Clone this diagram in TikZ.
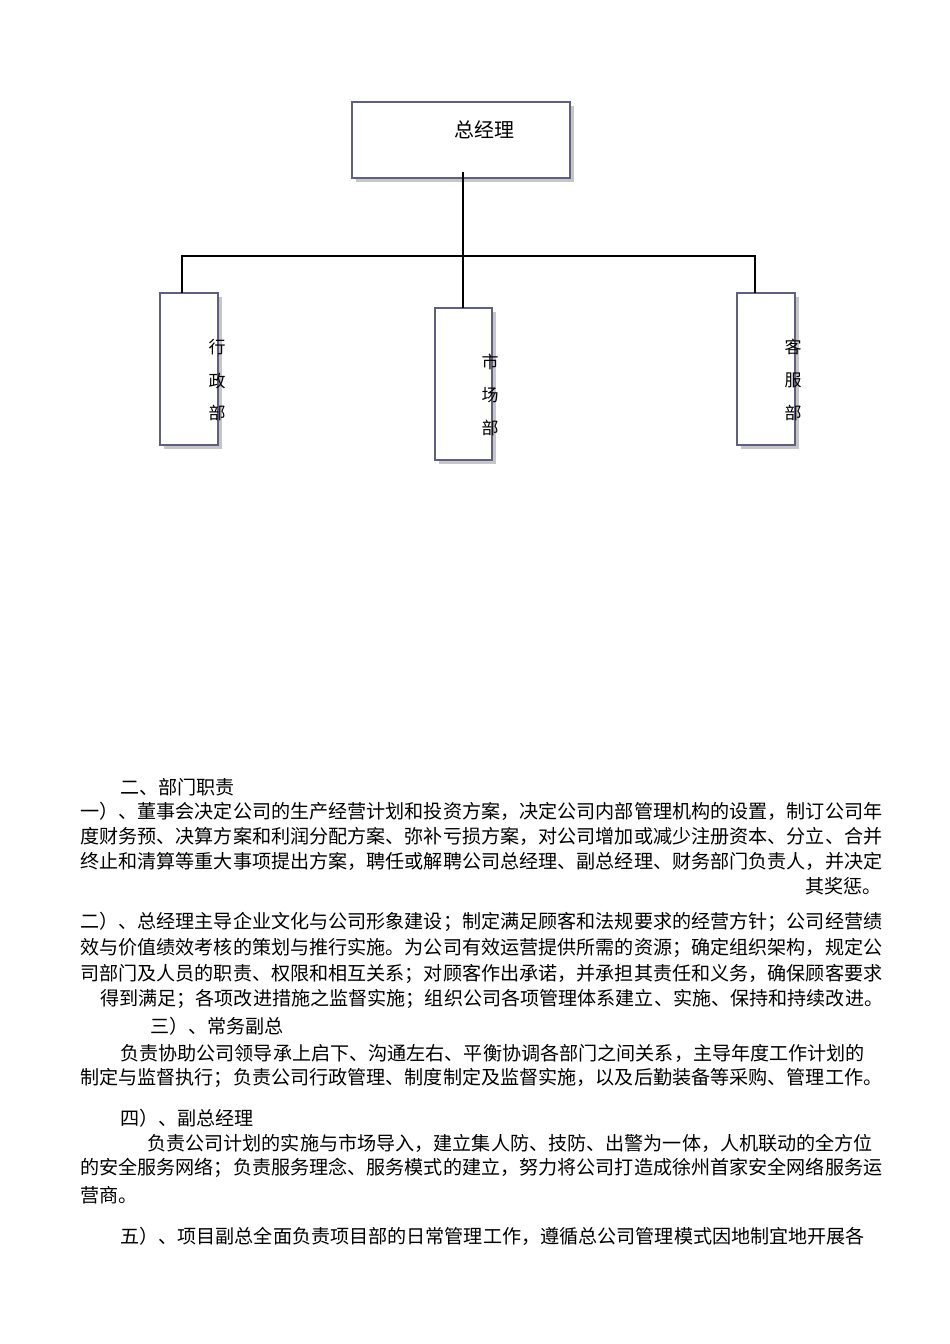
\documentclass[tikz,border=0pt]{standalone}
\usepackage{fontspec}
\newfontfamily\cjk{Noto Sans CJK SC}
\begin{document}
\begin{tikzpicture}[x=1pt,y=-1pt,
  box/.style={draw=boxc,line width=1.6pt,fill=white},
  shad/.style={fill=gray!45,draw=none},
  conn/.style={line width=1.8pt,black},
  lbl/.style={font=\cjk\fontsize{17}{17}\selectfont,inner sep=0pt},
  para/.style={anchor=west,inner sep=0pt,font=\cjk\fontsize{19.1}{19.1}\selectfont}]
\definecolor{boxc}{RGB}{95,95,130}
\useasboundingbox[fill=white] (0,0) rectangle (950,1344);
% shadows
\fill[shad] (356,106) rectangle (574,182);
\fill[shad] (164,297) rectangle (222,449);
\fill[shad] (439,312) rectangle (496,464);
\fill[shad] (741,297) rectangle (799,449);
% boxes
\draw[box] (352,102) rectangle (570,178);
\node[font=\cjk\fontsize{20}{20}\selectfont,inner sep=0pt] (gmt) at (484,130) {总经理};
\draw[box] (160,293) rectangle (218,445);
\draw[box] (435,308) rectangle (492,460);
\draw[box] (737,293) rectangle (795,445);
\coordinate (top) at (463,172);
\coordinate (hm) at (463,256);
\coordinate (hl) at (182,256);
\coordinate (hr) at (755,256);
\coordinate (bl) at (182,293);
\coordinate (bm) at (463,308);
\coordinate (br) at (755,293);
\draw[conn] (top) -- (hm) -- (bm);
\draw[conn] (bl) -- (hl) -- (hr) -- (br);
\node[lbl] (a1) at (217,347) {行};
\node[lbl] (a2) at (217,381) {政};
\node[lbl] (a3) at (217,413) {部};
\node[lbl] (b1) at (490,362) {市};
\node[lbl] (b2) at (490,395) {场};
\node[lbl] (b3) at (490,428) {部};
\node[lbl] (c1) at (793,347) {客};
\node[lbl] (c2) at (793,380) {服};
\node[lbl] (c3) at (793,413) {部};
% text
\node[para] (t1) at (120,787) {二、部门职责};
\node[para] (t2) at (80,811) {一）、董事会决定公司的生产经营计划和投资方案，决定公司内部管理机构的设置，制订公司年};
\node[para] (t3) at (80,836) {度财务预、决算方案和利润分配方案、弥补亏损方案，对公司增加或减少注册资本、分立、合并};
\node[para] (t4) at (80,861) {终止和清算等重大事项提出方案，聘任或解聘公司总经理、副总经理、财务部门负责人，并决定};
\node[para,anchor=east] (t5) at (882,886) {其奖惩。};
\node[para] (t6) at (80,922) {二）、总经理主导企业文化与公司形象建设；制定满足顾客和法规要求的经营方针；公司经营绩};
\node[para] (t7) at (80,948) {效与价值绩效考核的策划与推行实施。为公司有效运营提供所需的资源；确定组织架构，规定公};
\node[para] (t8) at (80,974) {司部门及人员的职责、权限和相互关系；对顾客作出承诺，并承担其责任和义务，确保顾客要求};
\node[para] (t9) at (100,999) {得到满足；各项改进措施之监督实施；组织公司各项管理体系建立、实施、保持和持续改进。};
\node[para] (t10) at (150,1026) {三）、常务副总};
\node[para] (t11) at (120,1053) {负责协助公司领导承上启下、沟通左右、平衡协调各部门之间关系，主导年度工作计划的};
\node[para] (t12) at (80,1078) {制定与监督执行；负责公司行政管理、制度制定及监督实施，以及后勤装备等采购、管理工作。};
\node[para] (t13) at (120,1118) {四）、副总经理};
\node[para] (t14) at (147,1143) {负责公司计划的实施与市场导入，建立集人防、技防、出警为一体，人机联动的全方位};
\node[para] (t15) at (80,1168) {的安全服务网络；负责服务理念、服务模式的建立，努力将公司打造成徐州首家安全网络服务运};
\node[para] (t16) at (80,1195) {营商。};
\node[para] (t17) at (120,1236) {五）、项目副总全面负责项目部的日常管理工作，遵循总公司管理模式因地制宜地开展各};
\end{tikzpicture}
\end{document}
